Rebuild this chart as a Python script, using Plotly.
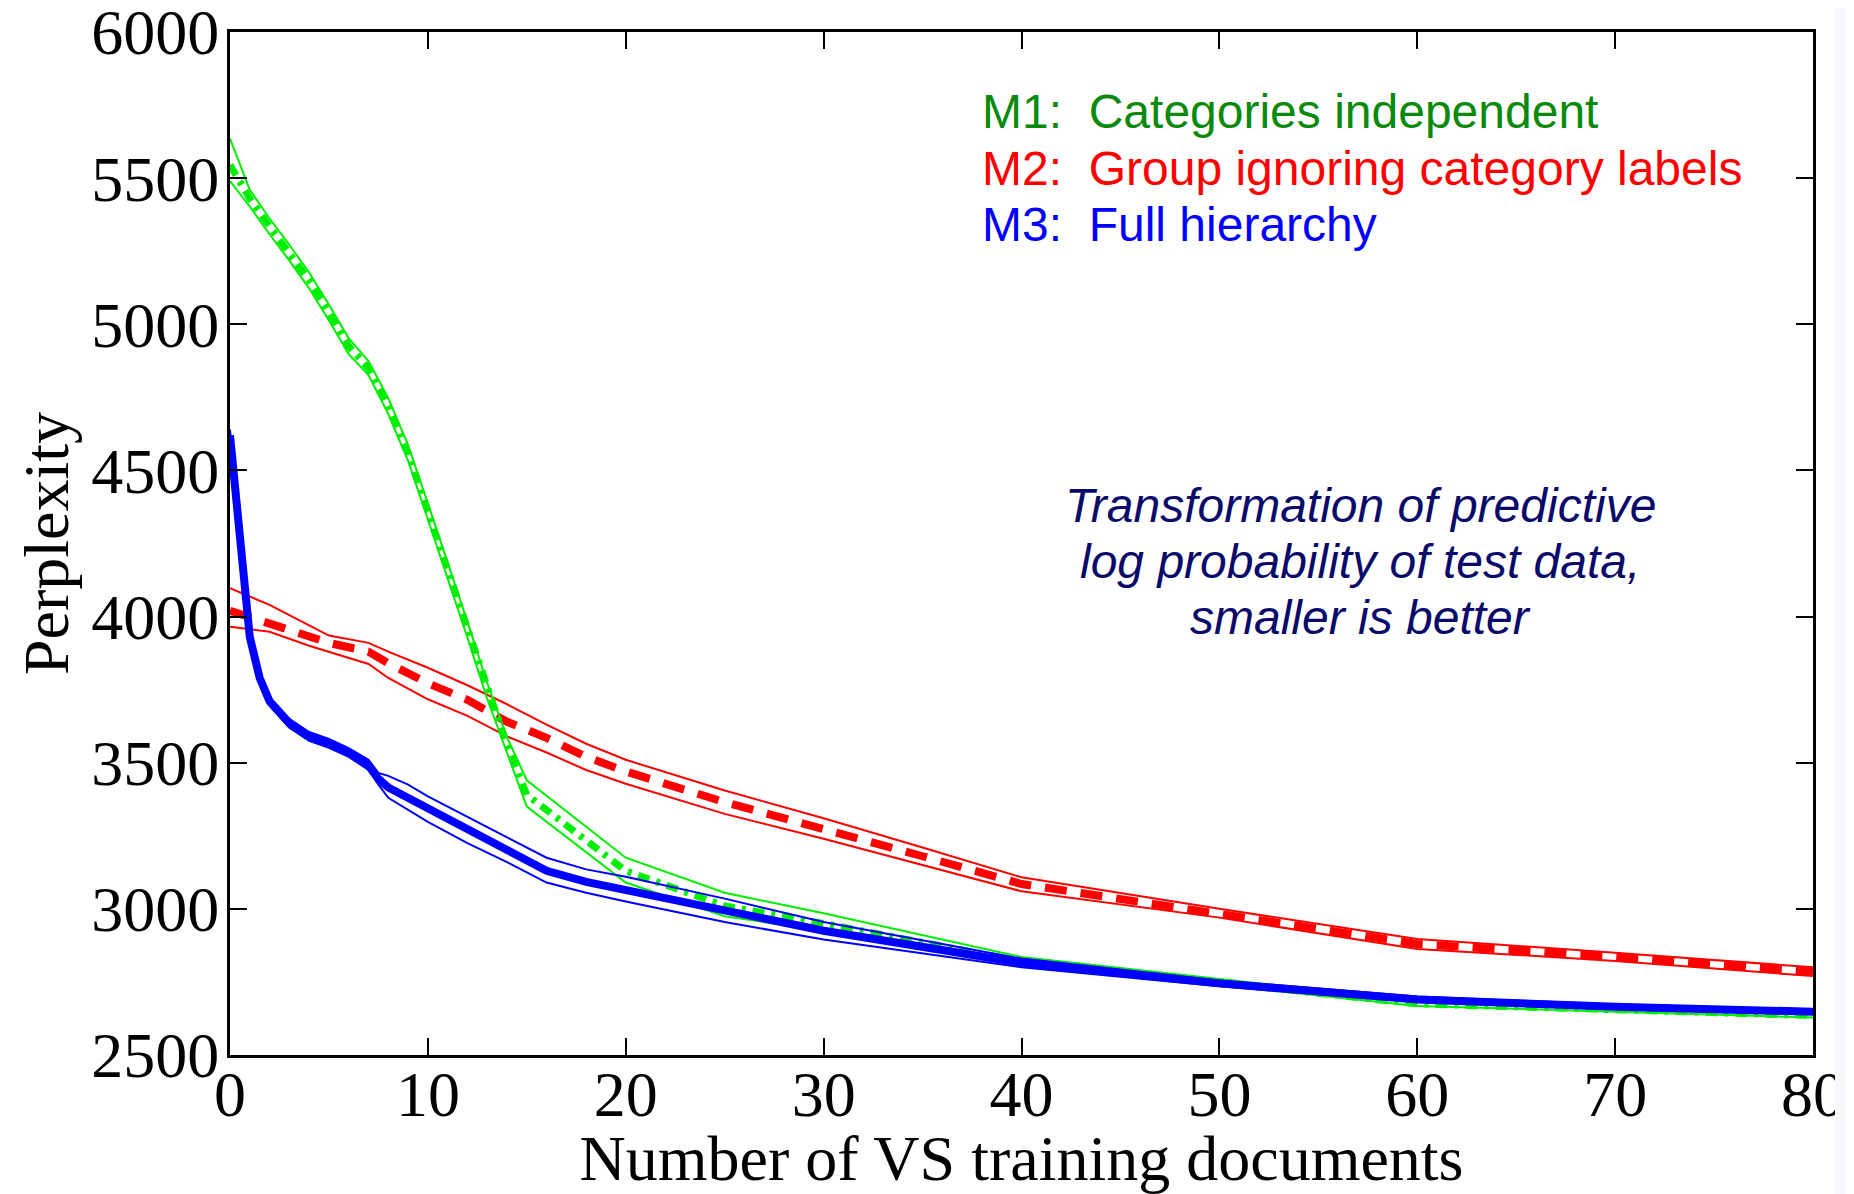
import plotly.graph_objects as go

# ---------------- data ----------------
x_m1 = [0, 1, 2, 3, 4, 5, 6, 7, 8, 9, 10, 11, 12, 13, 14, 15, 20, 25, 30, 40, 50, 60, 70, 80]
m1_mean = [5545, 5430, 5335, 5245, 5150, 5040, 4925, 4850, 4720, 4560, 4360, 4160, 3955, 3745, 3560, 3390,
           3130, 3010, 2950, 2820, 2750, 2675, 2655, 2635]
m1_upper = [5635, 5460, 5362, 5272, 5177, 5067, 4952, 4874, 4747, 4587, 4387, 4187, 3982, 3772, 3587, 3440,
            3175, 3055, 2985, 2835, 2760, 2685, 2665, 2645]
m1_lower = [5490, 5403, 5308, 5218, 5123, 5013, 4898, 4826, 4693, 4533, 4333, 4133, 3928, 3718, 3533, 3350,
            3090, 2975, 2925, 2805, 2740, 2668, 2648, 2628]

x_m2 = [0, 2, 4, 5, 7, 8, 10, 12, 14, 16, 18, 20, 25, 30, 35, 40, 50, 60, 70, 80]
m2_mean = [4020, 3975, 3930, 3910, 3880, 3840, 3772, 3715, 3640, 3585, 3520, 3470, 3365, 3275, 3180, 3085,
           2985, 2880, 2836, 2785]
m2_upper = [4097, 4040, 3970, 3935, 3910, 3880, 3825, 3765, 3700, 3630, 3565, 3510, 3405, 3310, 3210, 3108,
            3000, 2897, 2850, 2800]
m2_lower = [3965, 3948, 3900, 3880, 3838, 3790, 3717, 3660, 3590, 3535, 3475, 3428, 3325, 3240, 3150, 3060,
            2970, 2863, 2822, 2770]

x_m3 = [0, 0.5, 1, 1.5, 2, 3, 4, 5, 6, 7, 7.5, 8, 9, 10, 12, 14, 16, 18, 20, 25, 30, 40, 50, 60, 70, 80]
m3_mean = [4620, 4285, 3930, 3790, 3710, 3635, 3590, 3566, 3535, 3490, 3445, 3415, 3380, 3340, 3270, 3205,
           3130, 3092, 3065, 2995, 2925, 2815, 2745, 2690, 2665, 2648]
m3_upper = [4640, 4300, 3945, 3805, 3725, 3650, 3605, 3581, 3550, 3510, 3465, 3455, 3425, 3385, 3315, 3245,
            3175, 3135, 3110, 3035, 2955, 2830, 2755, 2700, 2673, 2655]
m3_lower = [4600, 4270, 3915, 3775, 3695, 3620, 3575, 3551, 3520, 3475, 3425, 3380, 3340, 3298, 3225, 3160,
            3090, 3055, 3025, 2955, 2895, 2800, 2735, 2682, 2658, 2640]

x_ticks = [0, 10, 20, 30, 40, 50, 60, 70, 80]
y_ticks = [2500, 3000, 3500, 4000, 4500, 5000, 5500, 6000]

legend_lines = ["M1:\u00a0 Categories independent",
                "M2:\u00a0 Group ignoring category labels",
                "M3:\u00a0 Full hierarchy"]
note_lines = ["Transformation of predictive",
              "log probability of test data,",
              "smaller is better"]

# ---------------- styles ----------------
GREEN = "#00ee00"
RED = "#ff0000"
BLUE = "#0000ff"
SERIF = "Liberation Serif, Times New Roman, serif"
SANS = "Liberation Sans, Arial, sans-serif"

fig = go.Figure()


def band(x, lo, hi, mean, color, dash, mw):
    for y in (hi, lo):
        fig.add_trace(go.Scatter(x=x, y=y, mode="lines", line=dict(color=color, width=2),
                                 showlegend=False, hoverinfo="skip"))
    fig.add_trace(go.Scatter(x=x, y=mean, mode="lines", line=dict(color=color, width=mw, dash=dash),
                             showlegend=False))


band(x_m2, m2_lower, m2_upper, m2_mean, RED, "22px,14px", 8)
band(x_m1, m1_lower, m1_upper, m1_mean, GREEN, "12px,7px,4px,7px", 7)
band(x_m3, m3_lower, m3_upper, m3_mean, BLUE, "solid", 8)

fig.update_xaxes(range=[0, 80], tickvals=x_ticks, ticks="inside", ticklen=17, tickwidth=2,
                 tickcolor="black", showline=True, linecolor="black", linewidth=3, mirror="ticks",
                 showgrid=False, zeroline=False, ticklabelstandoff=-19, ticklabeloverflow="allow",
                 automargin=False,
                 tickfont=dict(family=SERIF, size=64, color="black"),
                 title=dict(text="Number of VS training documents",
                            font=dict(family=SERIF, size=64, color="black"), standoff=4))
fig.update_yaxes(range=[2500, 6000.01], tickvals=y_ticks, ticks="inside", ticklen=17, tickwidth=2,
                 tickcolor="black", showline=True, linecolor="black", linewidth=3, mirror="ticks",
                 showgrid=False, zeroline=False, ticklabeloverflow="allow", automargin=False,
                 ticklabelstandoff=-5,
                 tickfont=dict(family=SERIF, size=64, color="black"),
                 title=dict(text="Perplexity", font=dict(family=SERIF, size=64, color="black"), standoff=2))

ann = []
leg_colors = ["#0a8a0a", RED, BLUE]
leg_y = [0.9223, 0.8665, 0.8118]
for t, c, yy in zip(legend_lines, leg_colors, leg_y):
    ann.append(dict(text=t, x=0.4738, y=yy, xref="paper", yref="paper", xanchor="left", yanchor="middle",
                    showarrow=False, font=dict(family=SANS, size=48, color=c)))
note_y = [(1055 - 505) / 1023, (1055 - 561) / 1023, (1055 - 618) / 1023]
for t, yy in zip(note_lines, note_y):
    ann.append(dict(text="<i>" + t + "</i>", x=0.714, y=yy, xref="paper", yref="paper", xanchor="center",
                    yanchor="middle", showarrow=False, font=dict(family=SANS, size=48, color="#0a0a6a")))

# the page body adds an 8 px offset; the figure is sized so the plot area lands where the reference has it
fig.update_layout(
    width=1846, height=1186,
    margin=dict(l=222, r=41, t=24, b=139, pad=0, autoexpand=False),
    paper_bgcolor="white", plot_bgcolor="white",
    showlegend=False,
    annotations=ann,
    shapes=[dict(type="rect", xref="paper", yref="paper", x0=(1835 - 230) / 1583, x1=1.03,
                 y0=-0.14, y1=1.04, fillcolor="#f7f8fe", line=dict(width=0), layer="above")],
)

fig.write_html("out.html")
